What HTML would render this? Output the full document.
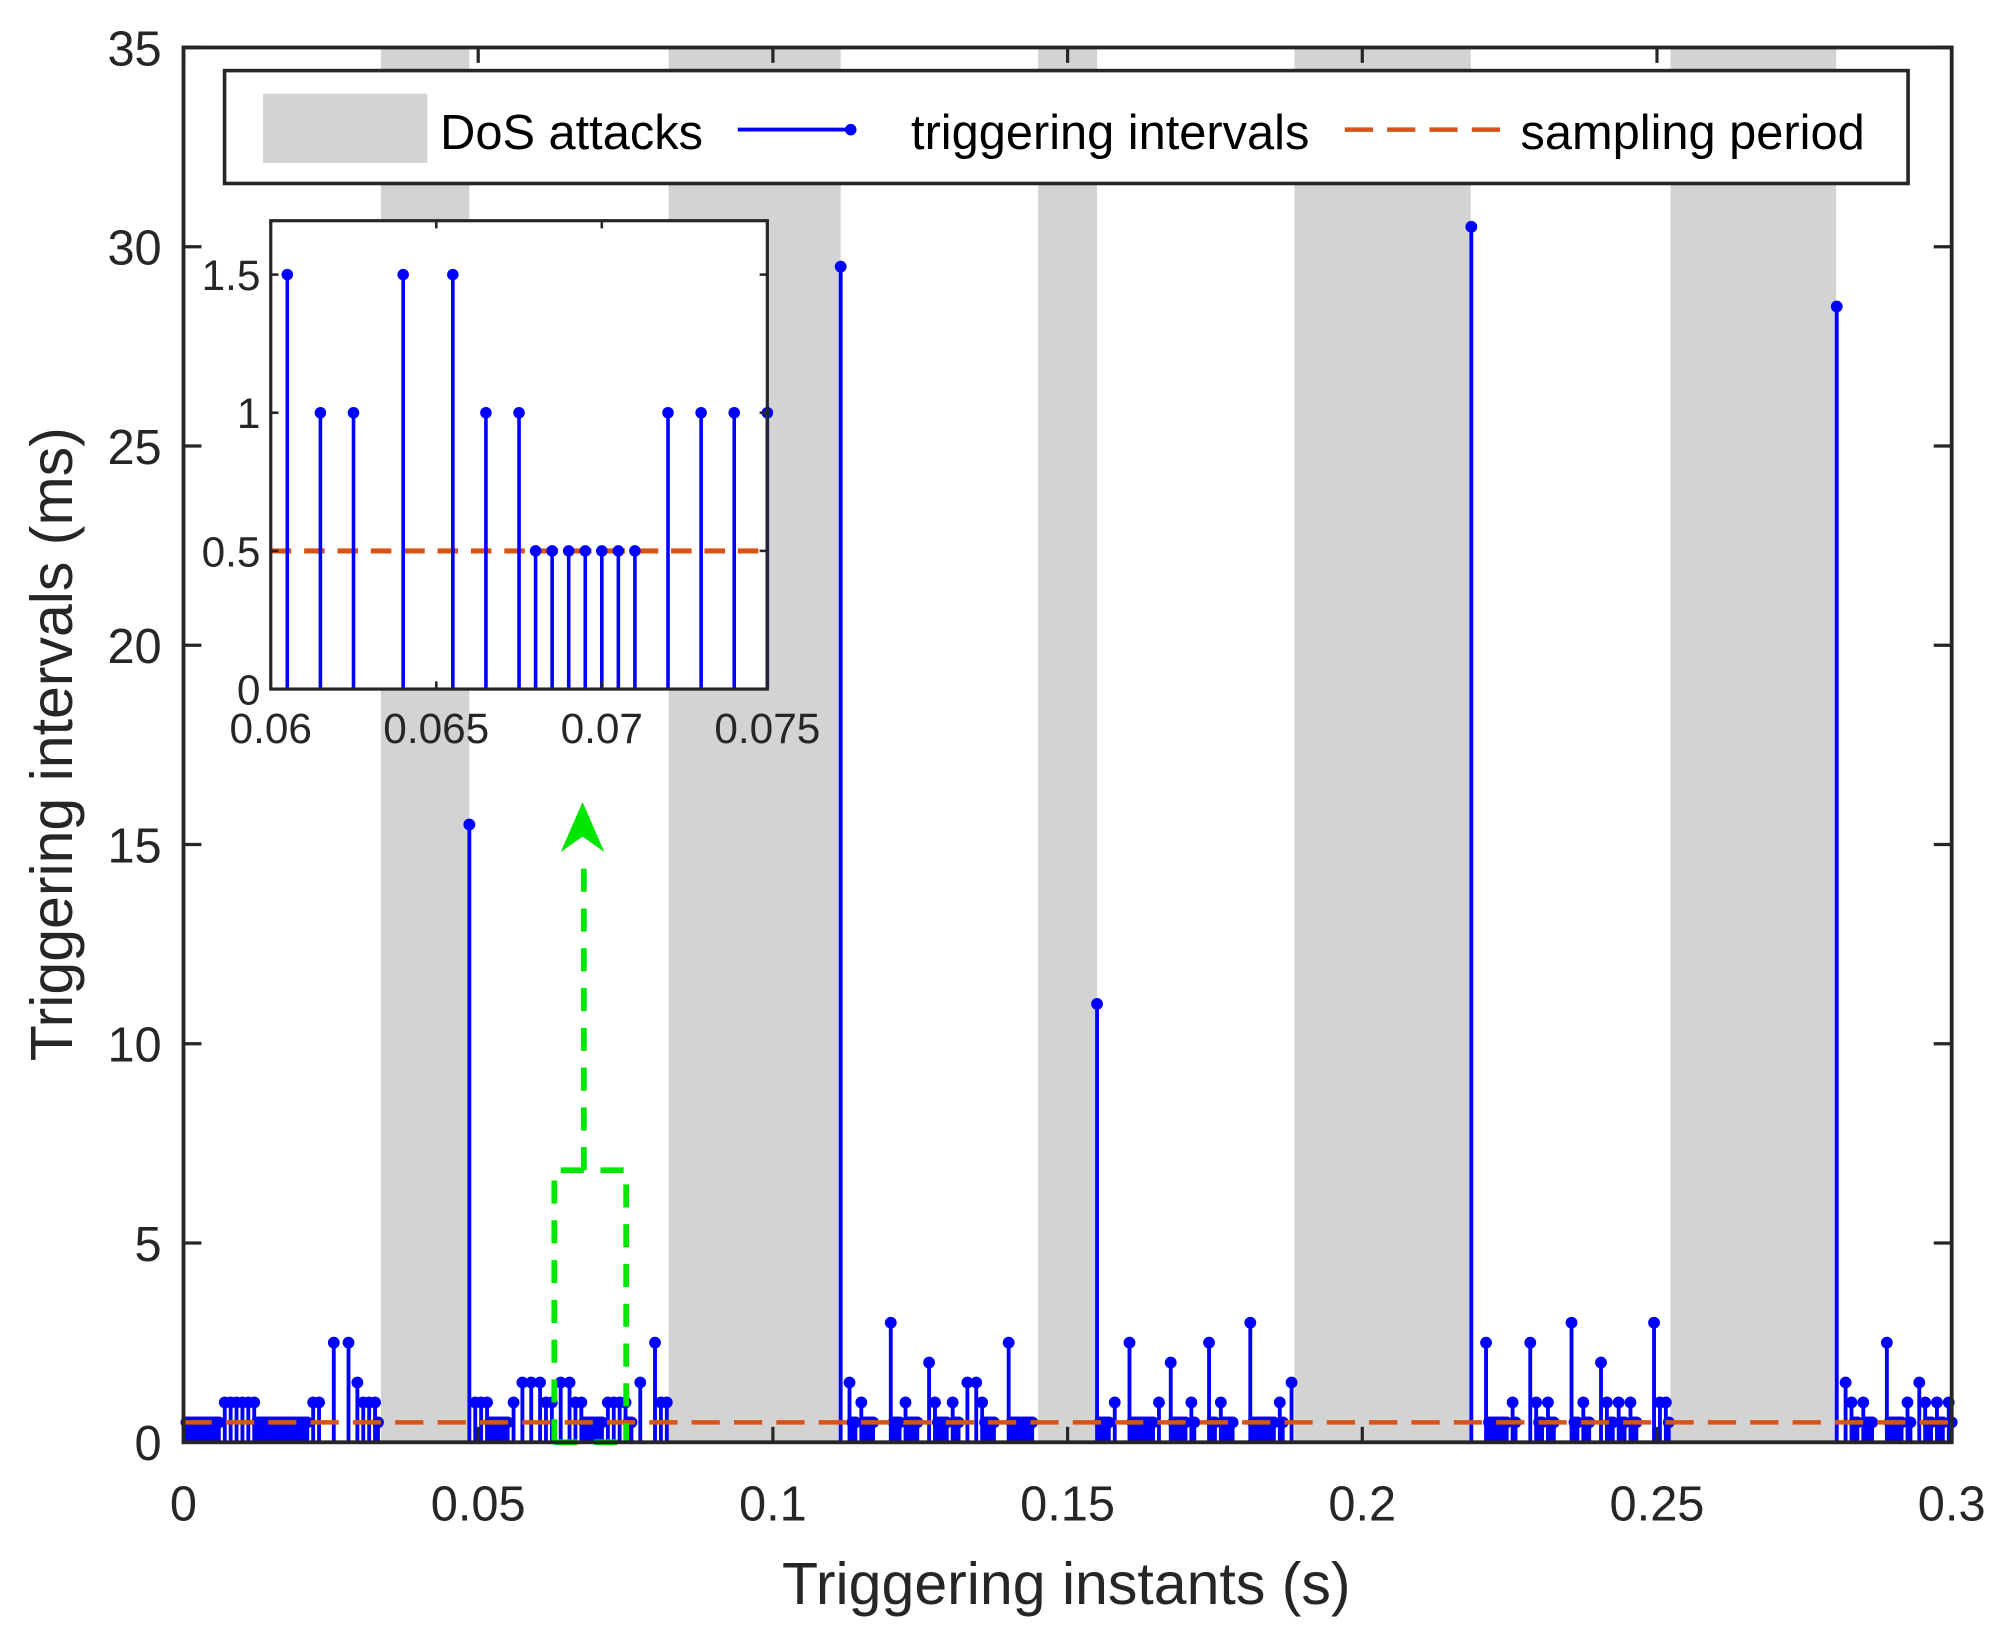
<!DOCTYPE html>
<html><head><meta charset="utf-8"><style>
html,body{margin:0;padding:0;background:#fff;}
svg{display:block;font-family:"Liberation Sans",sans-serif;}
</style></head><body>
<svg id="chart" xmlns="http://www.w3.org/2000/svg" width="2012" height="1644" viewBox="0 0 1568 1281.2">
<rect width="1568" height="1282" fill="#fff"/>
<g id="dos"></g>
<g id="stems"></g>
<g id="ref"></g>
<g id="green" fill="none" stroke="#00e600" stroke-width="4.5" stroke-dasharray="18 13">
  <path d="M432,1124 V912 H488 V1124"/>
  <path d="M432,1124 H488"/>
  <path d="M455,912 V668"/>
  <path d="M454,625 L471,664 L454,652 L437,664 Z" fill="#00e600" stroke="none"/>
</g>
<g id="axes"></g>
<g id="legend">
  <rect x="175" y="55" width="1312" height="88" fill="#fff" stroke="#262626" stroke-width="2.8"/>
  <rect x="205" y="73" width="128" height="54" fill="#d3d3d3"/>
  <text x="343" y="116" font-size="38" fill="#000">DoS attacks</text>
  <line x1="575" y1="101" x2="663" y2="101" stroke="#0000ff" stroke-width="3"/>
  <circle cx="663" cy="101" r="4.5" fill="#0000ff"/>
  <text x="710" y="116" font-size="38" fill="#000">triggering intervals</text>
  <line x1="1048" y1="101" x2="1172" y2="101" stroke="#d95319" stroke-width="3.5" stroke-dasharray="22 11"/>
  <text x="1185" y="116" font-size="38" fill="#000">sampling period</text>
</g>
<g id="inset"></g>
<text x="831" y="1250" font-size="46" text-anchor="middle" fill="#262626">Triggering instants (s)</text>
<text transform="translate(56,580) rotate(-90)" font-size="46" text-anchor="middle" fill="#262626">Triggering intervals (ms)</text>
</svg>
<script>
// DoS attack windows (seconds)
const dosStart = [0.0335, 0.0823, 0.145, 0.1885, 0.2523];
const dosEnd = [0.0485, 0.1115, 0.155, 0.2184, 0.2804];
// triggering intervals in ms, in order; instants are their cumulative sum
const intervals = [
0.5,0.5,0.5,0.5,0.5,0.5,0.5,0.5,0.5,0.5,0.5,0.5,
1,1,1,1,1,1,
0.5,0.5,0.5,0.5,0.5,0.5,0.5,0.5,0.5,0.5,0.5,0.5,0.5,0.5,0.5,0.5,0.5,0.5,
1,1,2.5,2.5,1.5,1,1,1,0.5,
15.5,
1,1,1,0.5,0.5,0.5,0.5,0.5,0.5,0.5,1,1.5,1.5,1.5,
1,1,1.5,1.5,1,1,0.5,0.5,0.5,0.5,0.5,0.5,0.5,1,1,1,1,
0.5,0.5,1.5,2.5,1,1,
29.5,
1.5,0.5,0.5,1,0.5,0.5,0.5,0.5,3,0.5,0.5,0.5,1,0.5,0.5,0.5,0.5,2,1,0.5,0.5,0.5,0.5,1,0.5,0.5,1.5,1.5,1,0.5,0.5,0.5,0.5,2.5,0.5,0.5,0.5,0.5,0.5,0.5,0.5,0.5,
11,
0.5,0.5,0.5,0.5,1,2.5,0.5,0.5,0.5,0.5,0.5,0.5,0.5,0.5,1,2,0.5,0.5,0.5,0.5,0.5,1,0.5,2.5,0.5,0.5,1,0.5,0.5,0.5,0.5,3,0.5,0.5,0.5,0.5,0.5,0.5,0.5,0.5,1,0.5,1.5,
30.5,
2.5,0.5,0.5,0.5,0.5,0.5,0.5,0.5,1,0.5,2.5,1,0.5,0.5,1,0.5,0.5,3,0.5,0.5,1,0.5,0.5,2,1,0.5,0.5,1,0.5,0.5,1,0.5,0.5,3,1,1,0.5,
28.5,
1.5,1,0.5,0.5,1,0.5,0.5,0.5,2.5,0.5,0.5,0.5,0.5,0.5,1,0.5,1.5,1,0.5,0.5,1,0.5,0.5,1,0.5
];
const samplingPeriod = 0.5;
const xTicks = [0, 0.05, 0.1, 0.15, 0.2, 0.25, 0.3];
const xTickLabels = ["0","0.05","0.1","0.15","0.2","0.25","0.3"];
const yTicks = [0,5,10,15,20,25,30,35];
const yTickLabels = ["0","5","10","15","20","25","30","35"];
// inset data
const insetTimes = [0.0605,0.0615,0.0625,0.064,0.0655,0.0665,0.0675,0.068,0.0685,0.069,0.0695,0.07,0.0705,0.071,0.072,0.073,0.074,0.075];
const insetValues = [1.5,1,1,1.5,1.5,1,1,0.5,0.5,0.5,0.5,0.5,0.5,0.5,1,1,1,1];
const insetXTicks = [0.06,0.065,0.07,0.075];
const insetXTickLabels = ["0.06","0.065","0.07","0.075"];
const insetYTicks = [0,0.5,1,1.5];
const insetYTickLabels = ["0","0.5","1","1.5"];

const NS = "http://www.w3.org/2000/svg";
function mk(tag, attrs, parent){const e=document.createElementNS(NS,tag);for(const k in attrs)e.setAttribute(k,attrs[k]);parent.appendChild(e);return e;}
const L=143,R=1521,T=37,B=1124;
const xS=t=>L+(t-0)/(0.3-0)*(R-L);
const yS=v=>B-v/35*(B-T);

const dosG=document.getElementById('dos');
dosStart.forEach((s,i)=>{
  const r=mk('rect',{x:xS(s),y:T,width:xS(dosEnd[i])-xS(s),height:B-T,fill:'#d3d3d3'},dosG);
  
  
});

const stG=document.getElementById('stems');
let t=0;
intervals.forEach((v,i)=>{
  t+=v;
  const x=xS(t/1000);
  if(x>R+1) return;
  const ln=mk('line',{x1:x,y1:B,x2:x,y2:yS(v),stroke:'#0000ff','stroke-width':3},stG);
  
  
  const c=mk('circle',{cx:x,cy:yS(v),r:4.6,fill:'#0000ff'},stG);
  
  
});

const refG=document.getElementById('ref');
const sp=mk('line',{x1:L,y1:yS(samplingPeriod),x2:R,y2:yS(samplingPeriod),stroke:'#d95319','stroke-width':3.5,'stroke-dasharray':'22 11'},refG);



const ax=document.getElementById('axes');
xTicks.forEach((v,i)=>{
  const x=xS(v);
  mk('line',{x1:x,y1:B,x2:x,y2:B-12,stroke:'#262626','stroke-width':2.5},ax);
  mk('line',{x1:x,y1:T,x2:x,y2:T+12,stroke:'#262626','stroke-width':2.5},ax);
  const tx=mk('text',{x:x,y:1185,'font-size':38,'text-anchor':'middle',fill:'#262626'},ax);
  tx.textContent=xTickLabels[i];
  
  
});
yTicks.forEach((v,i)=>{
  const y=yS(v);
  mk('line',{x1:L,y1:y,x2:L+14,y2:y,stroke:'#262626','stroke-width':2.5},ax);
  mk('line',{x1:R,y1:y,x2:R-14,y2:y,stroke:'#262626','stroke-width':2.5},ax);
  const tx=mk('text',{x:126,y:y+14,'font-size':38,'text-anchor':'end',fill:'#262626'},ax);
  tx.textContent=yTickLabels[i];
  
  
});
const box=mk('rect',{x:L,y:T,width:R-L,height:B-T,fill:'none',stroke:'#262626','stroke-width':3},ax);



// inset
const IL=211,IR=598,IT=172,IB=537;
const ixS=t=>IL+(t-0.06)/0.015*(IR-IL);
const iyS=v=>IB-v/1.695*(IB-IT);
const ig=document.getElementById('inset');
mk('rect',{x:IL,y:IT,width:IR-IL,height:IB-IT,fill:'#fff'},ig);
const isp=mk('line',{x1:IL,y1:iyS(samplingPeriod),x2:IR,y2:iyS(samplingPeriod),stroke:'#d95319','stroke-width':4,'stroke-dasharray':'16 10'},ig);


insetTimes.forEach((tt,i)=>{
  const x=ixS(tt),y=iyS(insetValues[i]);
  const ln=mk('line',{x1:x,y1:IB,x2:x,y2:y,stroke:'#0000ff','stroke-width':2.8},ig);
  
  
  const c=mk('circle',{cx:x,cy:y,r:4.5,fill:'#0000ff'},ig);
  
  
});
insetXTicks.forEach((v,i)=>{
  const x=ixS(v);
  mk('line',{x1:x,y1:IB,x2:x,y2:IB-6,stroke:'#262626','stroke-width':2},ig);
  mk('line',{x1:x,y1:IT,x2:x,y2:IT+6,stroke:'#262626','stroke-width':2},ig);
  const tx=mk('text',{x:x,y:579,'font-size':33,'text-anchor':'middle',fill:'#262626'},ig);
  tx.textContent=insetXTickLabels[i];
  
  
});
insetYTicks.forEach((v,i)=>{
  const y=iyS(v);
  mk('line',{x1:IL,y1:y,x2:IL+6,y2:y,stroke:'#262626','stroke-width':2},ig);
  mk('line',{x1:IR,y1:y,x2:IR-6,y2:y,stroke:'#262626','stroke-width':2},ig);
  const tx=mk('text',{x:203,y:y+12,'font-size':33,'text-anchor':'end',fill:'#262626'},ig);
  tx.textContent=insetYTickLabels[i];
  
  
});
const ibox=mk('rect',{x:IL,y:IT,width:IR-IL,height:IB-IT,fill:'none',stroke:'#262626','stroke-width':2.5},ig);


</script>
</body></html>
